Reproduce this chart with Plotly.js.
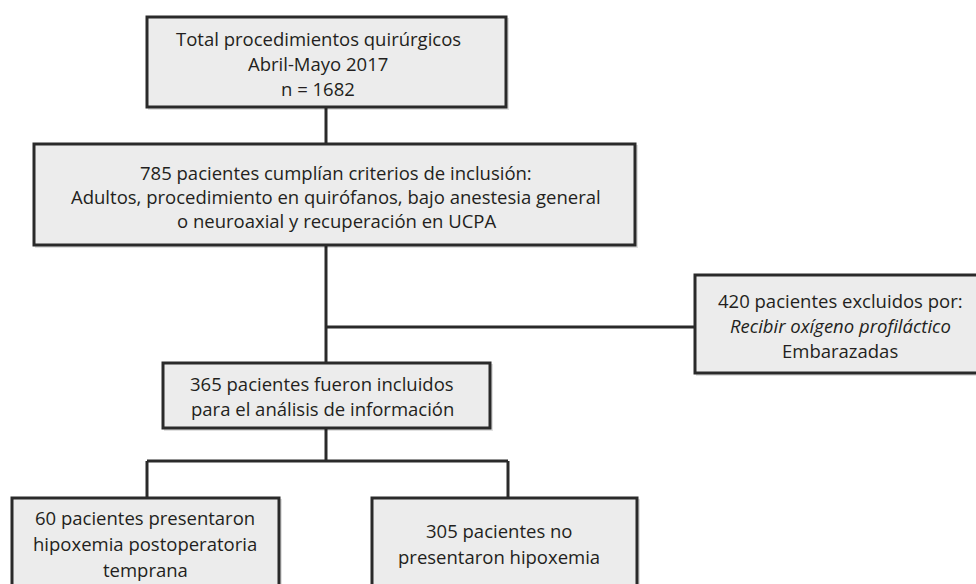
<!DOCTYPE html>
<html>
<head>
<meta charset="utf-8">
<script src="https://cdn.plot.ly/plotly-3.0.1.min.js"></script>
<style>html,body{margin:0;padding:0;background:#fff;}#chart{width:976px;height:584px;}</style>
</head>
<body>
<div id="chart"></div>
<script>
// ---- content (data) ----
const counts = [1682, 785, 420, 365, 60, 305];
const box1Lines = ["Total procedimientos quirúrgicos", "Abril-Mayo 2017", "n = " + counts[0]];
const box2Lines = [counts[1] + " pacientes cumplían criterios de inclusión:", "Adultos, procedimiento en quirófanos, bajo anestesia general", "o neuroaxial y recuperación en UCPA"];
const box3Lines = [counts[2] + " pacientes excluidos por:", "<i>Recibir oxígeno profiláctico</i>", "Embarazadas"];
const box4Lines = [counts[3] + " pacientes fueron incluidos", "para el análisis de información"];
const box5Lines = [counts[4] + " pacientes presentaron", "hipoxemia postoperatoria", "temprana"];
const box6Lines = [counts[5] + " pacientes no", "presentaron hipoxemia"];

// ---- layout geometry (pixel space of the diagram) ----
const boxes = [
  {r: [147, 17, 506, 107],  cx: 318, cy: 63,  lh: 25, lines: box1Lines},
  {r: [34, 144, 635, 245],  cx: 336, cy: 196, lh: 24, lines: box2Lines},
  {r: [695, 275, 990, 373], cx: 840, cy: 325, lh: 25, lines: box3Lines},
  {r: [163, 363, 490, 428], cx: 322, cy: 396, lh: 25, lines: box4Lines},
  {r: [12, 498, 279, 620],  cx: 145, cy: 543, lh: 26, lines: box5Lines},
  {r: [372, 498, 637, 620], cx: 499, cy: 543, lh: 26, lines: box6Lines}
];
const connectors = [
  [326, 107, 326, 144],
  [326, 245, 326, 363],
  [326, 327, 695, 327],
  [326, 428, 326, 461],
  [147, 461, 508, 461],
  [147, 461, 147, 498],
  [508, 461, 508, 498]
];

const lineColor = '#2a2a2a';
const fillColor = '#ececec';
const shapes = [];
const annotations = [];

connectors.forEach(c => {
  shapes.push({type: 'line', xref: 'x', yref: 'y', x0: c[0], y0: c[1], x1: c[2], y1: c[3],
    line: {color: lineColor, width: 3}, layer: 'below'});
});
boxes.forEach(b => {
  const [x0, y0, x1, y1] = b.r;
  // soft shadow
  shapes.push({type: 'rect', xref: 'x', yref: 'y', x0: x0 + 1, y0: y0 + 1, x1: x1 + 3, y1: y1 + 3,
    fillcolor: 'rgba(0,0,0,0.12)', line: {width: 0}});
  shapes.push({type: 'rect', xref: 'x', yref: 'y', x0: x0, y0: y0, x1: x1, y1: y1,
    fillcolor: fillColor, line: {color: lineColor, width: 3}});
  const n = b.lines.length;
  b.lines.forEach((t, i) => {
    annotations.push({
      xref: 'x', yref: 'y', x: b.cx, y: b.cy + (i - (n - 1) / 2) * b.lh,
      text: t, showarrow: false, xanchor: 'center', yanchor: 'middle',
      font: {family: '"Open Sans", "Noto Sans", sans-serif', size: 18.5, color: '#231f20'}
    });
  });
});

const layout = {
  width: 976, height: 584,
  margin: {l: 0, r: 0, t: 0, b: 0},
  paper_bgcolor: '#ffffff', plot_bgcolor: '#ffffff',
  xaxis: {range: [0, 976], visible: false, fixedrange: true},
  yaxis: {range: [584, 0], visible: false, fixedrange: true},
  showlegend: false,
  shapes: shapes,
  annotations: annotations
};
Plotly.newPlot('chart', [{x: [], y: [], type: 'scatter'}], layout, {staticPlot: true, displayModeBar: false});
</script>
</body>
</html>
